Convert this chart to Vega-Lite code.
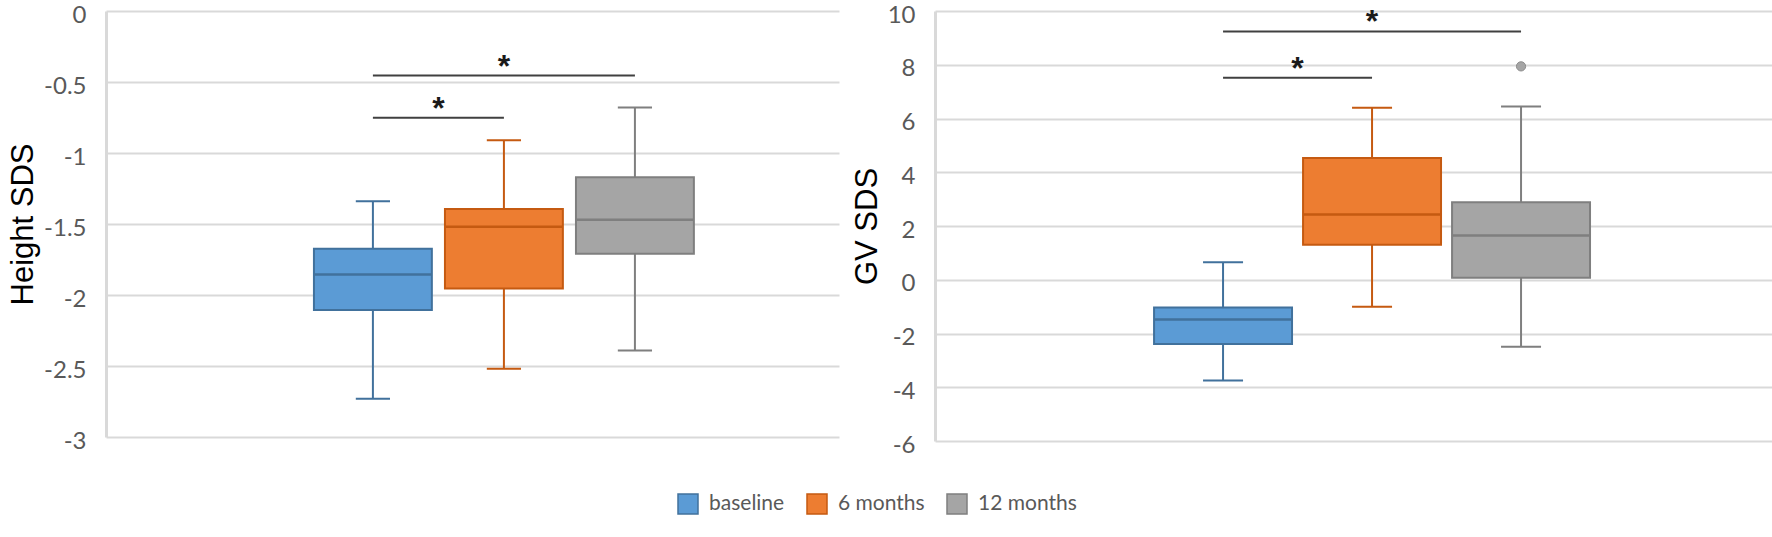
{
  "$schema": "https://vega.github.io/schema/vega-lite/v6.json",
  "padding": {"left": 7, "top": 3, "right": 0, "bottom": 0},
  "background": "white",
  "datasets": {
    "boxes": [
      {"panel": "Height", "series": "baseline", "lower": -2.73, "q1": -2.105, "median": -1.855, "q3": -1.675, "upper": -1.34},
      {"panel": "Height", "series": "6 months", "lower": -2.52, "q1": -1.955, "median": -1.52, "q3": -1.395, "upper": -0.91},
      {"panel": "Height", "series": "12 months", "lower": -2.39, "q1": -1.71, "median": -1.47, "q3": -1.17, "upper": -0.68},
      {"panel": "GV", "series": "baseline", "lower": -3.75, "q1": -2.39, "median": -1.48, "q3": -1.03, "upper": 0.65},
      {"panel": "GV", "series": "6 months", "lower": -1.0, "q1": 1.3, "median": 2.43, "q3": 4.53, "upper": 6.4},
      {"panel": "GV", "series": "12 months", "lower": -2.49, "q1": 0.07, "median": 1.65, "q3": 2.88, "upper": 6.45}
    ],
    "sig": [
      {"panel": "Height", "kind": "long", "from": "baseline", "to": "12 months", "mid": "6 months", "y": -0.455, "label": "*"},
      {"panel": "Height", "kind": "short", "from": "baseline", "to": "6 months", "mid": "baseline", "y": -0.752, "label": "*"},
      {"panel": "GV", "kind": "long", "from": "baseline", "to": "12 months", "mid": "6 months", "y": 9.24, "label": "*"},
      {"panel": "GV", "kind": "short", "from": "baseline", "to": "6 months", "mid": "baseline", "y": 7.52, "label": "*"}
    ],
    "outliers": [
      {"panel": "GV", "series": "12 months", "value": 7.94}
    ]
  },
  "config": {
    "view": {"stroke": null},
    "axisY": {
      "domainColor": "#d9d9d9", "domainWidth": 3,
      "gridColor": "#d9d9d9", "gridWidth": 2,
      "ticks": false, "labelPadding": 20, "labelOffset": 4,
      "labelFont": "Lato", "labelFontSize": 24, "labelColor": "#595959",
      "titleFont": "Liberation Sans", "titleFontSize": 31, "titleFontWeight": "normal", "titleColor": "#000000",
      "titlePadding": 4,
      "labelExpr": "'' + datum.value"
    },
    "legend": {
      "orient": "none", "legendX": 571, "legendY": 482, "direction": "horizontal",
      "symbolType": "square", "symbolSize": 400, "symbolStrokeWidth": 1.5,
      "labelFont": "Lato", "labelFontSize": 21, "labelColor": "#595959",
      "labelOffset": 10, "columnPadding": 19, "title": null
    }
  },
  "spacing": 12,
  "hconcat": [
    {
      "width": 733, "height": 426,
      "layer": [
        {
          "data": {"name": "boxes"},
          "transform": [{"filter": "datum.panel === 'Height'"}],
          "mark": {"type": "rule", "strokeWidth": 2},
          "encoding": {
            "x": {"field": "series", "type": "nominal", "axis": null, "scale": {"domain": ["_a", "baseline", "6 months", "12 months", "_b"], "paddingInner": 0.1, "paddingOuter": 0.3475, "align": 0.845}},
            "y": {"field": "lower", "type": "quantitative", "title": "Height SDS", "scale": {"domain": [-3, 0], "nice": false, "zero": false}, "axis": {"values": [-3, -2.5, -2, -1.5, -1, -0.5, 0]}},
            "y2": {"field": "upper"},
            "stroke": {"field": "series", "type": "nominal", "title": null, "scale": {"domain": ["baseline", "6 months", "12 months"], "range": ["#41719c", "#c55a11", "#7f7f7f"]}}
          }
        },
        {
          "data": {"name": "boxes"},
          "transform": [{"filter": "datum.panel === 'Height'"}],
          "mark": {"type": "bar", "strokeWidth": 2},
          "encoding": {
            "x": {"field": "series", "type": "nominal"},
            "y": {"field": "q1", "type": "quantitative"},
            "y2": {"field": "q3"},
            "fill": {"field": "series", "type": "nominal", "title": null, "scale": {"domain": ["baseline", "6 months", "12 months"], "range": ["#5b9bd5", "#ed7d31", "#a5a5a5"]}},
            "stroke": {"field": "series", "type": "nominal", "title": null, "scale": {"domain": ["baseline", "6 months", "12 months"], "range": ["#41719c", "#c55a11", "#7f7f7f"]}}
          }
        },
        {
          "data": {"name": "boxes"},
          "transform": [{"filter": "datum.panel === 'Height'"}],
          "mark": {"type": "bar", "strokeWidth": 2.5, "fill": "transparent"},
          "encoding": {
            "x": {"field": "series", "type": "nominal"},
            "y": {"field": "median", "type": "quantitative"},
            "y2": {"field": "median"},
            "stroke": {"field": "series", "type": "nominal", "title": null}
          }
        },
        {
          "data": {"name": "boxes"},
          "transform": [{"filter": "datum.panel === 'Height'"}],
          "mark": {"type": "bar", "strokeWidth": 2, "fill": "transparent", "width": {"band": 0.29}},
          "encoding": {
            "x": {"field": "series", "type": "nominal"},
            "y": {"field": "upper", "type": "quantitative"},
            "y2": {"field": "upper"},
            "stroke": {"field": "series", "type": "nominal", "title": null}
          }
        },
        {
          "data": {"name": "boxes"},
          "transform": [{"filter": "datum.panel === 'Height'"}],
          "mark": {"type": "bar", "strokeWidth": 2, "fill": "transparent", "width": {"band": 0.29}},
          "encoding": {
            "x": {"field": "series", "type": "nominal"},
            "y": {"field": "lower", "type": "quantitative"},
            "y2": {"field": "lower"},
            "stroke": {"field": "series", "type": "nominal", "title": null}
          }
        },
        {
          "data": {"name": "sig"},
          "transform": [{"filter": "datum.panel === 'Height'"}],
          "mark": {"type": "rule", "color": "#404040", "strokeWidth": 2},
          "encoding": {
            "x": {"field": "from", "type": "nominal", "bandPosition": 0.5},
            "x2": {"field": "to"},
            "y": {"field": "y", "type": "quantitative"}
          }
        },
        {
          "data": {"name": "sig"},
          "transform": [{"filter": "datum.panel === 'Height' && datum.kind === 'long'"}],
          "mark": {"type": "text", "font": "Liberation Sans", "fontSize": 32, "fontWeight": "bold", "baseline": "alphabetic", "dy": 1, "color": "#1a1a1a"},
          "encoding": {
            "x": {"field": "mid", "type": "nominal", "bandPosition": 0.5},
            "y": {"field": "y", "type": "quantitative"},
            "text": {"field": "label"}
          }
        },
        {
          "data": {"name": "sig"},
          "transform": [{"filter": "datum.panel === 'Height' && datum.kind === 'short'"}],
          "mark": {"type": "text", "font": "Liberation Sans", "fontSize": 32, "fontWeight": "bold", "baseline": "alphabetic", "dy": 1, "color": "#1a1a1a"},
          "encoding": {
            "x": {"field": "mid", "type": "nominal", "bandPosition": 1.056},
            "y": {"field": "y", "type": "quantitative"},
            "text": {"field": "label"}
          }
        }
      ]
    },
    {
      "width": 839, "height": 430,
      "layer": [
        {
          "data": {"name": "boxes"},
          "transform": [{"filter": "datum.panel === 'GV'"}],
          "mark": {"type": "rule", "strokeWidth": 2},
          "encoding": {
            "x": {"field": "series", "type": "nominal", "axis": null, "scale": {"domain": ["_a", "baseline", "6 months", "12 months", "_b"], "paddingInner": 0.074, "paddingOuter": 0.3525, "align": 0.667}},
            "y": {"field": "lower", "type": "quantitative", "title": "GV SDS", "scale": {"domain": [-6, 10], "nice": false, "zero": false}, "axis": {"values": [-6, -4, -2, 0, 2, 4, 6, 8, 10]}},
            "y2": {"field": "upper"},
            "stroke": {"field": "series", "type": "nominal", "title": null, "scale": {"domain": ["baseline", "6 months", "12 months"], "range": ["#41719c", "#c55a11", "#7f7f7f"]}}
          }
        },
        {
          "data": {"name": "boxes"},
          "transform": [{"filter": "datum.panel === 'GV'"}],
          "mark": {"type": "bar", "strokeWidth": 2},
          "encoding": {
            "x": {"field": "series", "type": "nominal"},
            "y": {"field": "q1", "type": "quantitative"},
            "y2": {"field": "q3"},
            "fill": {"field": "series", "type": "nominal", "title": null, "scale": {"domain": ["baseline", "6 months", "12 months"], "range": ["#5b9bd5", "#ed7d31", "#a5a5a5"]}},
            "stroke": {"field": "series", "type": "nominal", "title": null, "scale": {"domain": ["baseline", "6 months", "12 months"], "range": ["#41719c", "#c55a11", "#7f7f7f"]}}
          }
        },
        {
          "data": {"name": "boxes"},
          "transform": [{"filter": "datum.panel === 'GV'"}],
          "mark": {"type": "bar", "strokeWidth": 2.5, "fill": "transparent"},
          "encoding": {
            "x": {"field": "series", "type": "nominal"},
            "y": {"field": "median", "type": "quantitative"},
            "y2": {"field": "median"},
            "stroke": {"field": "series", "type": "nominal", "title": null}
          }
        },
        {
          "data": {"name": "boxes"},
          "transform": [{"filter": "datum.panel === 'GV'"}],
          "mark": {"type": "bar", "strokeWidth": 2, "fill": "transparent", "width": {"band": 0.29}},
          "encoding": {
            "x": {"field": "series", "type": "nominal"},
            "y": {"field": "upper", "type": "quantitative"},
            "y2": {"field": "upper"},
            "stroke": {"field": "series", "type": "nominal", "title": null}
          }
        },
        {
          "data": {"name": "boxes"},
          "transform": [{"filter": "datum.panel === 'GV'"}],
          "mark": {"type": "bar", "strokeWidth": 2, "fill": "transparent", "width": {"band": 0.29}},
          "encoding": {
            "x": {"field": "series", "type": "nominal"},
            "y": {"field": "lower", "type": "quantitative"},
            "y2": {"field": "lower"},
            "stroke": {"field": "series", "type": "nominal", "title": null}
          }
        },
        {
          "data": {"name": "outliers"},
          "mark": {"type": "point", "filled": true, "size": 85, "fill": "#a5a5a5", "stroke": "#8c8c8c", "strokeWidth": 1, "opacity": 1},
          "encoding": {
            "x": {"field": "series", "type": "nominal", "bandPosition": 0.5},
            "y": {"field": "value", "type": "quantitative"}
          }
        },
        {
          "data": {"name": "sig"},
          "transform": [{"filter": "datum.panel === 'GV'"}],
          "mark": {"type": "rule", "color": "#404040", "strokeWidth": 2},
          "encoding": {
            "x": {"field": "from", "type": "nominal", "bandPosition": 0.5},
            "x2": {"field": "to"},
            "y": {"field": "y", "type": "quantitative"}
          }
        },
        {
          "data": {"name": "sig"},
          "transform": [{"filter": "datum.panel === 'GV' && datum.kind === 'long'"}],
          "mark": {"type": "text", "font": "Liberation Sans", "fontSize": 32, "fontWeight": "bold", "baseline": "alphabetic", "dy": 1, "color": "#1a1a1a"},
          "encoding": {
            "x": {"field": "mid", "type": "nominal", "bandPosition": 0.5},
            "y": {"field": "y", "type": "quantitative"},
            "text": {"field": "label"}
          }
        },
        {
          "data": {"name": "sig"},
          "transform": [{"filter": "datum.panel === 'GV' && datum.kind === 'short'"}],
          "mark": {"type": "text", "font": "Liberation Sans", "fontSize": 32, "fontWeight": "bold", "baseline": "alphabetic", "dy": 1, "color": "#1a1a1a"},
          "encoding": {
            "x": {"field": "mid", "type": "nominal", "bandPosition": 1.04},
            "y": {"field": "y", "type": "quantitative"},
            "text": {"field": "label"}
          }
        }
      ]
    }
  ]
}
